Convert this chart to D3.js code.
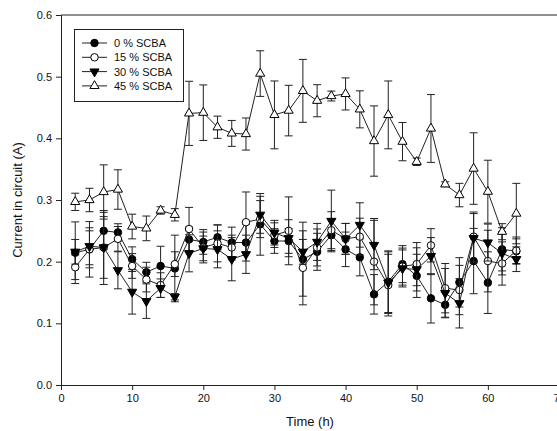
<!DOCTYPE html>
<html>
<head>
<meta charset="utf-8">
<script src="https://cdn.jsdelivr.net/npm/d3@7"></script>
<style>
  body { margin: 0; background: #fff; }
  svg { display: block; font-family: Arial, "Liberation Sans", sans-serif; }
</style>
</head>
<body>
<div id="chart"></div>
<script>
// sampling times (h)
const hours = [2, 4, 6, 8, 10, 12, 14, 16, 18, 20, 22, 24, 26, 28, 30, 32,
  34, 36, 38, 40, 42, 44, 46, 48, 50, 52, 54, 56, 58, 60, 62, 64];

// current (A) for each SCBA level
const scba0 = [0.2145, 0.220, 0.250, 0.2475, 0.204, 0.183, 0.193, 0.189, 0.236, 0.232, 0.2395, 0.231, 0.231, 0.2605, 0.2335, 0.2335,
  0.204, 0.216, 0.243, 0.220, 0.207, 0.147, 0.1675, 0.196, 0.177, 0.1405, 0.130, 0.1665, 0.201, 0.166, 0.220, 0.217];
const scba15 = [0.191, 0.220, 0.223, 0.237, 0.193, 0.171, 0.162, 0.196, 0.253, 0.223, 0.2297, 0.223, 0.264, 0.269, 0.243, 0.250,
  0.190, 0.223, 0.251, 0.237, 0.2405, 0.200, 0.162, 0.192, 0.196, 0.2265, 0.157, 0.154, 0.2405, 0.201, 0.197, 0.218];
const scba30 = [0.216, 0.225, 0.223, 0.186, 0.151, 0.136, 0.157, 0.143, 0.2135, 0.2215, 0.220, 0.204, 0.212, 0.276, 0.247, 0.238,
  0.216, 0.232, 0.266, 0.237, 0.2595, 0.227, 0.166, 0.189, 0.1875, 0.209, 0.149, 0.1325, 0.238, 0.231, 0.2135, 0.204];
const scba45 = [0.297, 0.300, 0.313, 0.317, 0.257, 0.254, 0.283, 0.276, 0.4405, 0.4416, 0.418, 0.408, 0.407, 0.505, 0.438, 0.445,
  0.477, 0.461, 0.4686, 0.472, 0.447, 0.3956, 0.438, 0.3946, 0.362, 0.416, 0.3255, 0.308, 0.351, 0.3135, 0.2486, 0.278];

// standard deviations
const err0 = [0.05, 0.045, 0.03, 0.014, 0.02, 0.016, 0.032, 0.054, 0.02, 0.02, 0.02, 0.025, 0.03, 0.05, 0.02, 0.02,
  0.06, 0.03, 0.025, 0.028, 0.03, 0.032, 0.05, 0.03, 0.035, 0.04, 0.02, 0.04, 0.053, 0.05, 0.035, 0.02];
const err15 = [0.02, 0.03, 0.06, 0.02, 0.02, 0.02, 0.02, 0.02, 0.035, 0.025, 0.03, 0.02, 0.049, 0.03, 0.02, 0.055,
  0.06, 0.03, 0.03, 0.025, 0.03, 0.07, 0.05, 0.03, 0.035, 0.027, 0.04, 0.04, 0.04, 0.05, 0.035, 0.022];
const err30 = [0.02, 0.03, 0.05, 0.03, 0.036, 0.028, 0.015, 0.005, 0.03, 0.02, 0.03, 0.035, 0.031, 0.03, 0.02, 0.03,
  0.02, 0.03, 0.05, 0.025, 0.036, 0.04, 0.05, 0.03, 0.035, 0.03, 0.04, 0.04, 0.04, 0.03, 0.035, 0.02];
const err45 = [0.014, 0.019, 0.044, 0.032, 0.02, 0.02, 0.006, 0.01, 0.052, 0.045, 0.018, 0.021, 0.026, 0.037, 0.055, 0.041,
  0.051, 0.026, 0.008, 0.026, 0.03, 0.057, 0.055, 0.031, 0.006, 0.055, 0.004, 0.019, 0.058, 0.051, 0.013, 0.049];

const seriesNames = ["0 % SCBA", "15 % SCBA", "30 % SCBA", "45 % SCBA"];
const xTicks = [0, 10, 20, 30, 40, 50, 60, 70];
const yTicks = [0.0, 0.1, 0.2, 0.3, 0.4, 0.5, 0.6];

const width = 557, height = 431;
const margin = { left: 61, top: 15 };
const plotW = 498, plotH = 370; // x 0..70, y 0..0.6

const ink = "#222";

const svg = d3.select("#chart").append("svg")
  .attr("width", width)
  .attr("height", height);

const x = d3.scaleLinear().domain([0, 70]).range([margin.left, margin.left + plotW]);
const y = d3.scaleLinear().domain([0, 0.6]).range([margin.top + plotH, margin.top]);

// frame (top + right), right edge falls outside the window
svg.append("path")
  .attr("d", `M${x(0)},${y(0.6)}H${x(70)}V${y(0)}`)
  .attr("fill", "none")
  .attr("stroke", ink)
  .attr("stroke-width", 1);

const xAxis = svg.append("g")
  .attr("transform", `translate(0,${y(0)})`)
  .call(d3.axisBottom(x).tickValues(xTicks).tickSize(5).tickPadding(4).tickFormat(d3.format("d")));

const yAxis = svg.append("g")
  .attr("transform", `translate(${x(0)},0)`)
  .call(d3.axisLeft(y).tickValues(yTicks).tickSize(5).tickPadding(4).tickFormat(d3.format(".1f")));

[xAxis, yAxis].forEach(g => {
  g.select(".domain").attr("stroke", ink);
  g.selectAll(".tick line").attr("stroke", ink);
  g.selectAll(".tick text")
    .attr("fill", "#111")
    .style("font-size", "11px")
    .style("font-family", "Arial, 'Liberation Sans', sans-serif");
});

svg.append("text")
  .attr("x", x(35))
  .attr("y", 426)
  .attr("text-anchor", "middle")
  .attr("fill", "#111")
  .style("font-size", "13px")
  .text("Time (h)");

svg.append("text")
  .attr("transform", `translate(22,${y(0.3)}) rotate(-90)`)
  .attr("text-anchor", "middle")
  .attr("fill", "#111")
  .style("font-size", "13px")
  .text("Current in circuit (A)");

// marker shapes
const symbols = [
  { type: d3.symbolCircle, size: 44, fill: "#000" },
  { type: d3.symbolCircle, size: 44, fill: "#fff" },
  { type: d3.symbolTriangle, size: 36, fill: "#000", flip: true },
  { type: d3.symbolTriangle, size: 36, fill: "#fff" }
];

const series = [
  { name: seriesNames[0], values: scba0, errors: err0, sym: symbols[0] },
  { name: seriesNames[1], values: scba15, errors: err15, sym: symbols[1] },
  { name: seriesNames[2], values: scba30, errors: err30, sym: symbols[2] },
  { name: seriesNames[3], values: scba45, errors: err45, sym: symbols[3] }
];

function drawMarker(g, sym, cx, cy) {
  g.append("path")
    .attr("d", d3.symbol().type(sym.type).size(sym.size)())
    .attr("transform", `translate(${cx},${cy})${sym.flip ? " rotate(180)" : ""}`)
    .attr("fill", sym.fill)
    .attr("stroke", "#000")
    .attr("stroke-width", 1);
}

const line = d3.line()
  .x(d => x(d[0]))
  .y(d => y(d[1]));

const capHalf = 4;

series.forEach(s => {
  const g = svg.append("g");
  const pts = hours.map((h, i) => [h, s.values[i], s.errors[i]]);

  // error bars
  pts.forEach(([h, v, e]) => {
    const cx = x(h);
    g.append("line")
      .attr("x1", cx).attr("x2", cx)
      .attr("y1", y(v + e)).attr("y2", y(v - e))
      .attr("stroke", ink).attr("stroke-width", 1);
    [v + e, v - e].forEach(t => {
      g.append("line")
        .attr("x1", cx - capHalf).attr("x2", cx + capHalf)
        .attr("y1", y(t)).attr("y2", y(t))
        .attr("stroke", ink).attr("stroke-width", 1);
    });
  });

  g.append("path")
    .attr("d", line(pts))
    .attr("fill", "none")
    .attr("stroke", ink)
    .attr("stroke-width", 1);

  pts.forEach(([h, v]) => drawMarker(g, s.sym, x(h), y(v)));
});

// legend
const legend = svg.append("g");
legend.append("rect")
  .attr("x", 74.5).attr("y", 29.5)
  .attr("width", 109).attr("height", 72)
  .attr("fill", "#fff")
  .attr("stroke", ink)
  .attr("stroke-width", 1);

series.forEach((s, i) => {
  const ly = 43 + i * 14.3;
  legend.append("line")
    .attr("x1", 82).attr("x2", 107)
    .attr("y1", ly).attr("y2", ly)
    .attr("stroke", ink).attr("stroke-width", 1);
  drawMarker(legend, s.sym, 94.5, ly);
  legend.append("text")
    .attr("x", 114)
    .attr("y", ly + 4)
    .attr("fill", "#111")
    .style("font-size", "11px")
    .text(s.name);
});
</script>
</body>
</html>
